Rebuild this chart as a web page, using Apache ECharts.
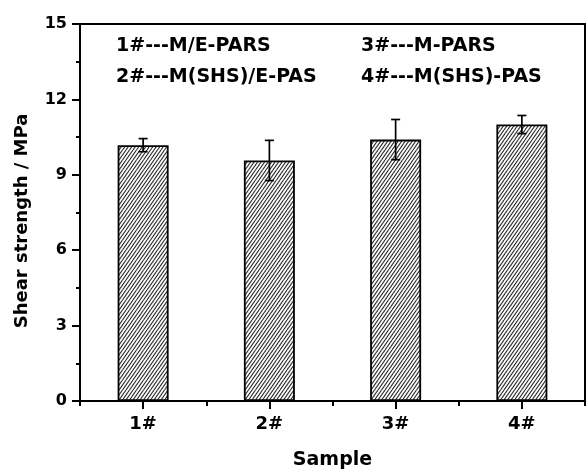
<!DOCTYPE html>
<html>
<head>
<meta charset="utf-8">
<script src="https://cdn.jsdelivr.net/npm/echarts@6/dist/echarts.min.js"></script>
<style>
  html, body { margin: 0; padding: 0; background: #fff; }
  #chart { width: 586px; height: 475px; }
</style>
</head>
<body>
<div id="chart"></div>
<script>
// Sample labels and measured lap-shear strength (MPa) with standard deviations
var categories = ['1#', '2#', '3#', '4#'];
var strength = [10.18, 9.57, 10.40, 11.00];
var deviation = [0.26, 0.80, 0.80, 0.36];
var yTicks = [0, 3, 6, 9, 12, 15];
var sampleKeyLeft = ['1#---M/E-PARS', '2#---M(SHS)/E-PAS'];
var sampleKeyRight = ['3#---M-PARS', '4#---M(SHS)-PAS'];

var FONT = '"DejaVu Sans", sans-serif';

// Diagonal hatch fill for the bars
function hatchPattern() {
  var w = 7, h = 10;
  var c = document.createElement('canvas');
  c.width = w; c.height = h;
  var ctx = c.getContext('2d');
  ctx.fillStyle = '#ffffff';
  ctx.fillRect(0, 0, w, h);
  ctx.strokeStyle = '#2a2a2a';
  ctx.lineWidth = 1.1;
  var offs = [-7, -3.5, 0, 3.5, 7];
  offs.forEach(function (o) {
    ctx.beginPath();
    ctx.moveTo(o, h);
    ctx.lineTo(o + w, 0);
    ctx.stroke();
  });
  return c;
}

var barData = strength.map(function (v, i) { return [categories[i], v]; });
var errData = strength.map(function (v, i) {
  return [i, v - deviation[i], v + deviation[i]];
});

var chart = echarts.init(document.getElementById('chart'), null, { renderer: 'canvas' });

var legendText = [];
[sampleKeyLeft, sampleKeyRight].forEach(function (col, ci) {
  col.forEach(function (t, ri) {
    legendText.push({
      type: 'text',
      left: ci === 0 ? 116 : 361,
      top: ri === 0 ? 37 : 68,
      style: {
        text: t,
        font: 'bold 19px ' + FONT,
        fill: '#000'
      }
    });
  });
});

var option = {
  backgroundColor: '#ffffff',
  animation: false,
  grid: { left: 80, right: 1, top: 24, bottom: 73, containLabel: false },
  xAxis: [
    {
      type: 'category',
      data: categories,
      position: 'bottom',
      boundaryGap: true,
      axisLine: { show: true, lineStyle: { color: '#000', width: 2 } },
      axisTick: { show: true, alignWithLabel: true, length: 8, lineStyle: { color: '#000', width: 2 } },
      axisLabel: { show: true, margin: 14, color: '#000', fontFamily: FONT, fontWeight: 'bold', fontSize: 18 },
      splitLine: { show: false },
      name: 'Sample',
      nameLocation: 'middle',
      nameGap: 50,
      nameTextStyle: { color: '#000', fontFamily: FONT, fontWeight: 'bold', fontSize: 19 }
    },
    {
      type: 'category',
      data: categories,
      position: 'bottom',
      boundaryGap: true,
      axisLine: { show: false },
      axisTick: { show: true, alignWithLabel: false, length: 5, lineStyle: { color: '#000', width: 2 } },
      axisLabel: { show: false },
      splitLine: { show: false }
    },
    {
      type: 'category',
      data: categories,
      position: 'top',
      axisLine: { show: true, onZero: false, lineStyle: { color: '#000', width: 2 } },
      axisTick: { show: false },
      axisLabel: { show: false },
      splitLine: { show: false }
    }
  ],
  yAxis: [
    {
      type: 'value',
      min: yTicks[0],
      max: yTicks[yTicks.length - 1],
      interval: yTicks[1] - yTicks[0],
      axisLine: { show: true, lineStyle: { color: '#000', width: 2 } },
      axisTick: { show: true, length: 8, lineStyle: { color: '#000', width: 2 } },
      minorTick: { show: true, splitNumber: 2, length: 4, lineStyle: { color: '#000', width: 2 } },
      axisLabel: { show: true, margin: 13, color: '#000', fontFamily: FONT, fontWeight: 'bold', fontSize: 16 },
      splitLine: { show: false },
      minorSplitLine: { show: false }
    },
    {
      type: 'value',
      position: 'right',
      min: yTicks[0],
      max: yTicks[yTicks.length - 1],
      interval: yTicks[1] - yTicks[0],
      axisLine: { show: true, onZero: false, lineStyle: { color: '#000', width: 2 } },
      axisTick: { show: false },
      axisLabel: { show: false },
      splitLine: { show: false }
    }
  ],
  graphic: legendText.concat([
    {
      type: 'text',
      x: 22,
      y: 221,
      rotation: Math.PI / 2,
      style: {
        text: 'Shear strength / MPa',
        font: 'bold 18px ' + FONT,
        fill: '#000',
        align: 'center',
        verticalAlign: 'middle'
      }
    }
  ]),
  series: [
    {
      type: 'bar',
      xAxisIndex: 0,
      yAxisIndex: 0,
      data: barData,
      barWidth: 51,
      itemStyle: {
        color: { image: hatchPattern(), repeat: 'repeat' },
        borderColor: '#000',
        borderWidth: 1.8
      },
      z: 2
    },
    {
      type: 'custom',
      xAxisIndex: 0,
      yAxisIndex: 0,
      data: errData,
      z: 5,
      renderItem: function (params, api) {
        var x = api.value(0);
        var lo = api.coord([x, api.value(1)]);
        var hi = api.coord([x, api.value(2)]);
        var cap = 4.5;
        var style = { stroke: '#000', lineWidth: 1.7 };
        return {
          type: 'group',
          children: [
            { type: 'line', shape: { x1: hi[0], y1: hi[1], x2: lo[0], y2: lo[1] }, style: style },
            { type: 'line', shape: { x1: hi[0] - cap, y1: hi[1], x2: hi[0] + cap, y2: hi[1] }, style: style },
            { type: 'line', shape: { x1: lo[0] - cap, y1: lo[1], x2: lo[0] + cap, y2: lo[1] }, style: style }
          ]
        };
      }
    }
  ]
};

chart.setOption(option);
</script>
</body>
</html>
